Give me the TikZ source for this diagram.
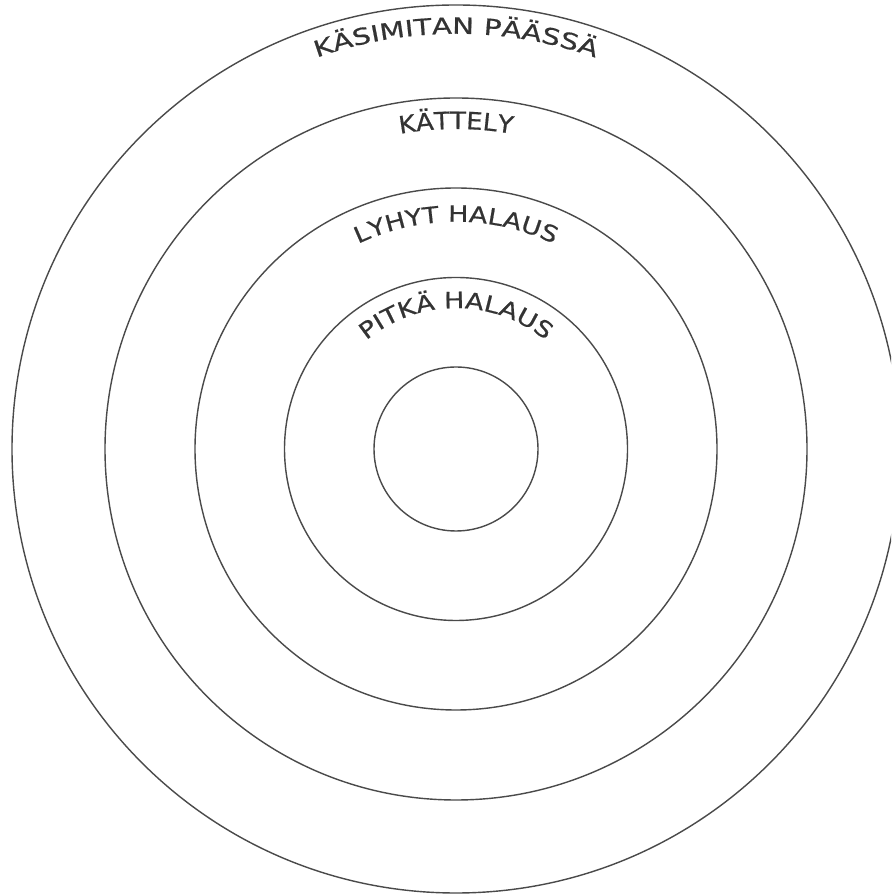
\documentclass[tikz,border=0pt]{standalone}
\usepackage{fontspec}
\usetikzlibrary{decorations.text}
\newfontfamily\ringfontwide[FakeStretch=1.3,FakeBold=0.6]{DejaVu Sans}
\newfontfamily\ringfont[FakeStretch=1.2,FakeBold=0.6]{DejaVu Sans}
\newfontfamily\ringfontplain[FakeStretch=1.08,FakeBold=0.6]{DejaVu Sans}
\definecolor{ringgray}{HTML}{4A4A4A}
\definecolor{inkgray}{HTML}{333333}

\begin{document}
\begin{tikzpicture}[ring/.style={draw=ringgray,line width=1pt},
  ringtext/.style={decorate,decoration={text along path,text align=center,text color=inkgray,text={#1}}}]
\useasboundingbox (0,0) rectangle (22.275,22.35);
\clip (0,0) rectangle (22.275,22.35);
\coordinate (mid) at (11.4,11.125);
\draw[ring] (mid) circle (11.1);
\draw[ring] (mid) circle (8.775);
\draw[ring] (mid) circle (6.525);
\draw[ring] (mid) circle (4.2875);
\draw[ring] (mid) circle (2.05);
\path[shift={(mid)},ringtext={|\ringfontwide\fontsize{16}{18}\selectfont|KÄSIMITAN PÄÄSSÄ}] (180:10.38) arc[start angle=180,end angle=0,radius=10.38];
\path[shift={(mid)},ringtext={|\ringfontplain\fontsize{17}{19}\selectfont|KÄTTELY}] (180:8.0) arc[start angle=180,end angle=0,radius=8.0];
\path[shift={(mid)},ringtext={|\ringfont\fontsize{16}{18}\selectfont|LYHYT HALAUS}] (180:5.68) arc[start angle=180,end angle=0,radius=5.68];
\path[shift={(mid)},ringtext={|\ringfont\fontsize{16}{18}\selectfont|PITKÄ HALAUS}] (180:3.52) arc[start angle=180,end angle=0,radius=3.52];
\end{tikzpicture}
\end{document}
